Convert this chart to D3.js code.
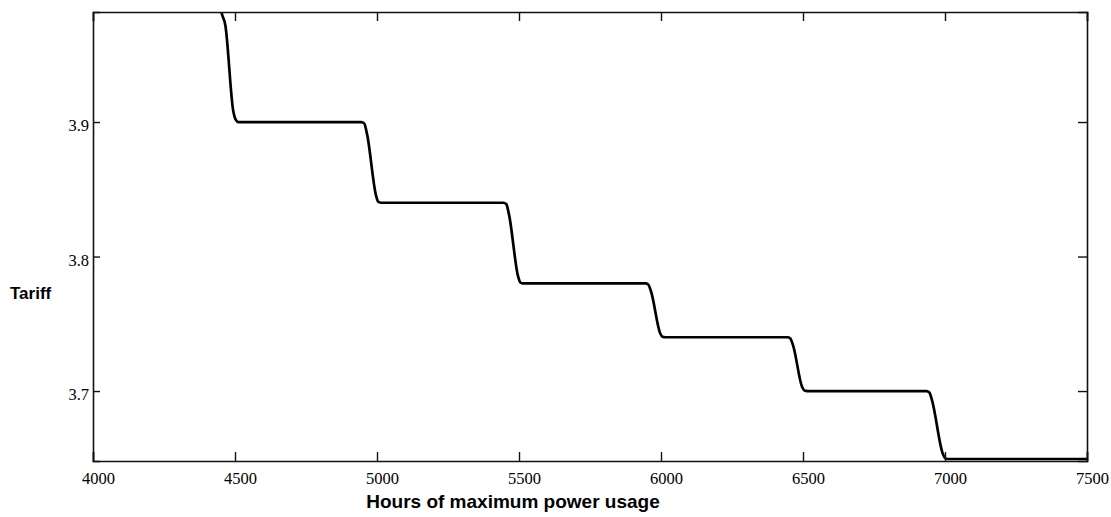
<!DOCTYPE html>
<html>
<head>
<meta charset="utf-8">
<script src="https://cdn.jsdelivr.net/npm/d3@7/dist/d3.min.js"></script>
<style>
  html, body { margin: 0; padding: 0; background: #fff; }
  svg { display: block; }
</style>
</head>
<body>
<svg id="chart" width="1111" height="517"></svg>
<script>
// Data
const hours = [
  4440, 4452, 4466, 4494, 4502, 4512,
  4945, 4955, 4965, 4997, 5005, 5015,
  5445, 5455, 5465, 5497, 5505, 5515,
  5945, 5955, 5965, 5997, 6005, 6015,
  6445, 6455, 6465, 6497, 6505, 6515,
  6935, 6945, 6955, 6992, 7000, 7010,
  7500
];
const tariff = [
  4.000, 3.982, 3.972, 3.908, 3.902, 3.900,
  3.900, 3.899, 3.891, 3.845, 3.8406, 3.840,
  3.840, 3.839, 3.831, 3.785, 3.7806, 3.780,
  3.780, 3.7792, 3.774, 3.743, 3.7404, 3.740,
  3.740, 3.7392, 3.734, 3.703, 3.7004, 3.700,
  3.700, 3.699, 3.6925, 3.6535, 3.6502, 3.6495,
  3.6495
];
const xTicks = [4000, 4500, 5000, 5500, 6000, 6500, 7000, 7500];
const yTicks = [3.7, 3.8, 3.9];
const xTitle = "Hours of maximum power usage";
const yTitle = "Tariff";

const svg = d3.select("#chart");
const L = 93, R = 1087, T = 12, B = 461;

const x = d3.scaleLinear().domain([4000, 7500]).range([L, R]);
const y = d3.scaleLinear().domain([3.648, 3.9818]).range([B, T]);

svg.append("defs").append("clipPath").attr("id", "clip")
  .append("rect").attr("x", L).attr("y", T).attr("width", R - L).attr("height", B - T);

const pts = hours.map((h, i) => [h, tariff[i]]);
const line = d3.line().x(d => x(d[0])).y(d => y(d[1])).curve(d3.curveMonotoneX);

svg.append("path")
  .attr("clip-path", "url(#clip)")
  .attr("d", line(pts))
  .attr("fill", "none")
  .attr("stroke", "#000")
  .attr("stroke-width", 2.7)
  .attr("stroke-linejoin", "round");

const tickFont = "'Liberation Serif', 'Times New Roman', serif";

// bottom axis
const gB = svg.append("g").attr("transform", `translate(0,${B})`)
  .call(d3.axisBottom(x).tickValues(xTicks).tickSize(-9).tickPadding(11).tickFormat(d3.format("d")));
// top axis (mirror ticks)
const gT = svg.append("g").attr("transform", `translate(0,${T})`)
  .call(d3.axisTop(x).tickValues(xTicks).tickSize(-9).tickFormat(""));
// left axis
const gL = svg.append("g").attr("transform", `translate(${L},0)`)
  .call(d3.axisLeft(y).tickValues(yTicks).tickSize(-7).tickPadding(4).tickFormat(d3.format(".1f")));
// right axis
const gR = svg.append("g").attr("transform", `translate(${R},0)`)
  .call(d3.axisRight(y).tickValues(yTicks).tickSize(-9).tickFormat(""));

[gB, gT, gL, gR].forEach(g => {
  g.select(".domain").attr("stroke", "#111").attr("stroke-width", 1.6);
  g.selectAll(".tick line").attr("stroke", "#111").attr("stroke-width", 1.4);
  g.selectAll(".tick text").attr("fill", "#000")
    .style("font-family", tickFont).style("font-size", "16.5px");
});
gB.selectAll(".tick text").attr("dx", 5);
gL.selectAll(".tick text").attr("dy", "0.52em");

svg.append("text")
  .attr("x", 513).attr("y", 508)
  .attr("text-anchor", "middle")
  .style("font-family", "'Liberation Sans', Arial, sans-serif")
  .style("font-weight", "bold").style("font-size", "19px")
  .attr("fill", "#000")
  .text(xTitle);

svg.append("text")
  .attr("x", 10).attr("y", 299)
  .style("font-family", "'Liberation Sans', Arial, sans-serif")
  .style("font-weight", "bold").style("font-size", "17px")
  .attr("fill", "#000")
  .text(yTitle);
</script>
</body>
</html>
